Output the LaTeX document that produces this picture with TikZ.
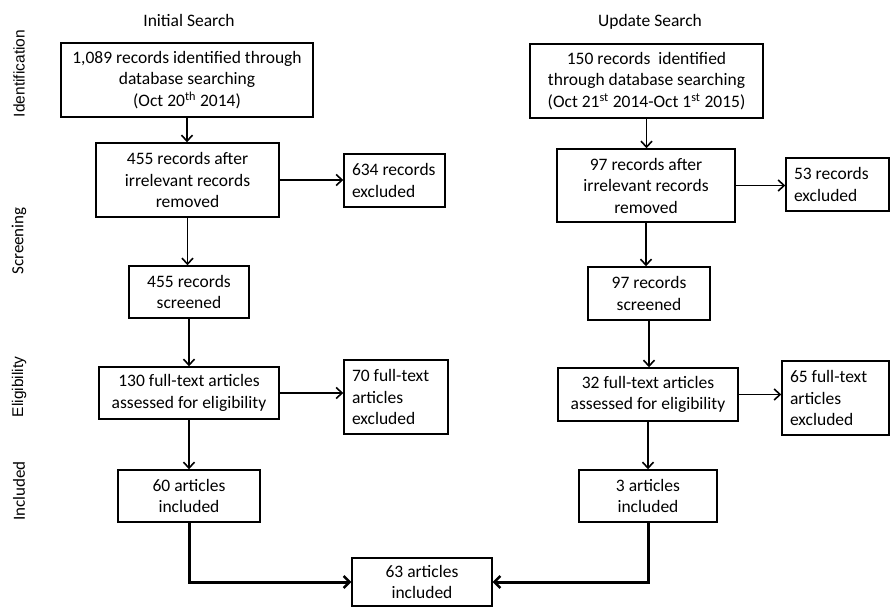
\documentclass[tikz,border=0pt]{standalone}
\usepackage{fontspec}
\setmainfont{Carlito}
\newfontfamily\arialfont{Liberation Sans}
\usetikzlibrary{arrows.meta}
\begin{document}
\begin{tikzpicture}[x=1pt,y=-1pt,
  box/.style={draw, line width=1.4pt, inner sep=2pt, align=center, font=\fontsize{17.5}{21.5}\selectfont},
  exbox/.style={box, align=flush left, inner xsep=8pt},
  side/.style={rotate=90, font=\fontsize{17}{19}\selectfont},
  sidea/.style={rotate=90, font=\arialfont\fontsize{15.5}{18}\selectfont},
  head/.style={anchor=base, font=\fontsize{17.5}{20}\selectfont},
  arr/.style={line width=1.6pt, -{Straight Barb[length=6pt,width=11pt,line width=1.6pt]}},
  thickarr/.style={line width=3pt, -{Straight Barb[length=6pt,width=12pt,line width=2.4pt]}}]
\useasboundingbox (0,0) rectangle (891,607);
% headings and stage labels
\node[head] (h1) at (189,27) {Initial Search};
\node[head] (h2) at (650,27) {Update Search};
\node[sidea] (s1) at (19,73.5) {Identification};
\node[side] (s2) at (19,241) {Screening};
\node[sidea] (s3) at (19,387) {Eligibility};
\node[side] (s4) at (19,491) {Included};
% left column
\node[box, minimum width=252, minimum height=74] (tl) at (187,80) {1,089 records identified through\\database searching\\(Oct 20\textsuperscript{th} 2014)};
\node[box, minimum width=183, minimum height=74] (t2) at (187.5,180) {455 records after\\irrelevant records\\removed};
\node[exbox, text width=85, minimum height=53] (ex1) at (394.5,180.5) {\mbox{634 records}\\excluded};
\node[box, minimum width=120, minimum height=52] (sc1) at (189,292) {455 records\\screened};
\node[box, minimum width=180, minimum height=52] (el1) at (189,393) {130 full-text articles\\assessed for eligibility};
\node[exbox, text width=88, minimum height=74] (ex2) at (396,397) {\mbox{70 full-text}\\articles\\excluded};
\node[box, minimum width=142, minimum height=52] (in1) at (189,496) {60 articles\\included};
% right column
\node[box, minimum width=233, minimum height=74] (tr) at (646.5,81) {150 records\ \ identified\\through database searching\\(Oct 21\textsuperscript{st} 2014-Oct 1\textsuperscript{st} 2015)};
\node[box, minimum width=178, minimum height=73] (r2) at (646,185.5) {97 records after\\irrelevant records\\removed};
\node[exbox, text width=87, minimum height=53] (ex3) at (837.5,184.5) {\mbox{53 records}\\excluded};
\node[box, minimum width=122, minimum height=53] (sc2) at (649,293.5) {97 records\\screened};
\node[box, minimum width=180, minimum height=53] (el2) at (648,394.5) {32 full-text articles\\assessed for eligibility};
\node[exbox, text width=91, minimum height=74] (ex4) at (835.5,398) {\mbox{65 full-text}\\articles\\excluded};
\node[box, minimum width=138, minimum height=52] (in2) at (648,496) {3 articles\\included};
% final
\node[box, minimum width=140, minimum height=48] (fin) at (422,582) {63 articles\\included};
% connectors left
\draw[arr] (tl.south) -- (tl.south |- t2.north);
\draw[arr] (t2.east) -- (t2.east -| ex1.west);
\draw[arr] (t2.south) -- (t2.south |- sc1.north);
\draw[arr] (sc1.south) -- (sc1.south |- el1.north);
\draw[arr] (el1.east) -- (el1.east -| ex2.west);
\draw[arr] (el1.south) -- (el1.south |- in1.north);
% connectors right
\draw[arr] (tr.south) -- (tr.south |- r2.north);
\draw[arr] (r2.east) -- (r2.east -| ex3.west);
\draw[arr] (r2.south) -- (r2.south |- sc2.north);
\draw[arr] (sc2.south) -- (sc2.south |- el2.north);
\draw[arr] (el2.east) -- (el2.east -| ex4.west);
\draw[arr] (el2.south) -- (el2.south |- in2.north);
% to final
\draw[thickarr] (in1.south) |- (fin.west);
\draw[thickarr] (in2.south) |- (fin.east);
\end{tikzpicture}
\end{document}
